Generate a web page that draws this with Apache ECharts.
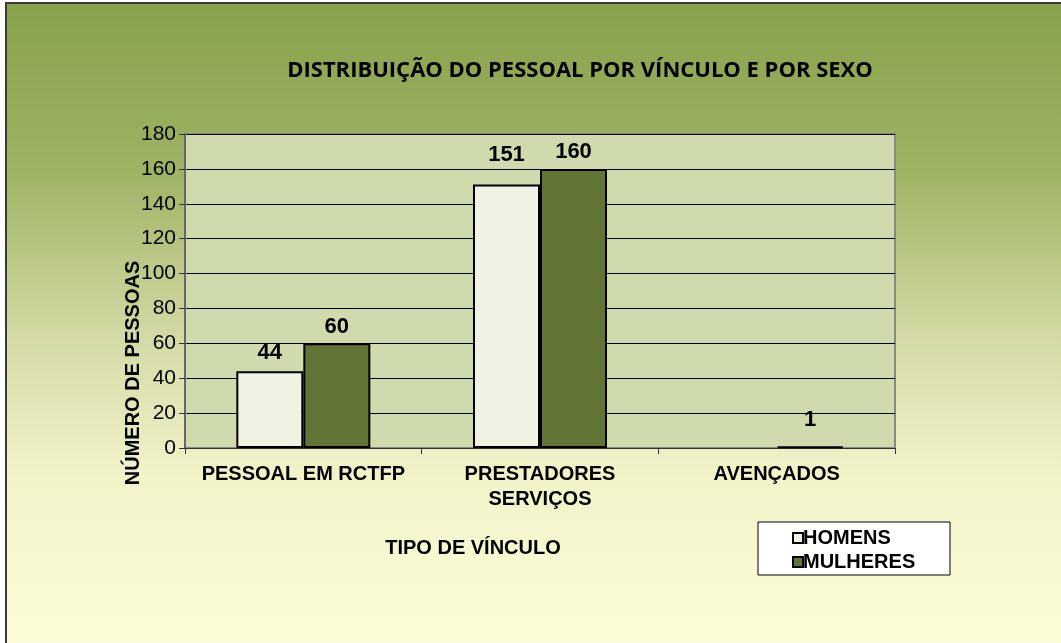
<!DOCTYPE html>
<html>
<head>
<meta charset="utf-8">
<script src="https://cdn.jsdelivr.net/npm/echarts@6/dist/echarts.min.js"></script>
<style>
  html, body { margin: 0; padding: 0; background: #fff; }
  #chart { width: 1061px; height: 643px; }
</style>
</head>
<body>
<div id="chart"></div>
<script>
// dados
var categorias = ['PESSOAL EM RCTFP', 'PRESTADORES\nSERVIÇOS', 'AVENÇADOS'];
var homens = [44, 151, 0];
var mulheres = [60, 160, 1];
var nomesSeries = ['HOMENS', 'MULHERES'];

// afastamento dos rótulos em relação ao topo da barra (como no original)
var distHomens = [7, 19, 0];
var distMulheres = [5, 6, 15];

var chart = echarts.init(document.getElementById('chart'));

var rotulo = {
  show: true,
  position: 'top',
  distance: 8,
  color: '#000',
  fontFamily: 'Liberation Sans',
  fontWeight: 'bold',
  fontSize: 22,
  formatter: function (p) { return p.value === 0 ? '' : p.value; }
};

// barras com valor 0 não desenham contorno
function dados(valores, dist) {
  return valores.map(function (v, i) {
    var item = { value: v, label: { distance: dist[i] } };
    if (v === 0) item.itemStyle = { borderWidth: 0 };
    return item;
  });
}

var option = {
  backgroundColor: '#fff',
  animation: false,
  title: {
    text: 'DISTRIBUIÇÃO DO PESSOAL POR VÍNCULO E POR SEXO',
    left: 575,
    top: 55,
    textAlign: 'center',
    textStyle: {
      fontFamily: 'Open Sans',
      fontWeight: 'bold',
      fontSize: 22,
      color: '#000'
    }
  },
  graphic: [
    { // fundo com degradê
      type: 'rect',
      z: -100,
      shape: { x: 6, y: 3, width: 1070, height: 660 },
      style: {
        fill: new echarts.graphic.LinearGradient(0, 0, 0, 1, [
          { offset: 0, color: '#88a24c' },
          { offset: 0.25, color: '#9db262' },
          { offset: 0.5, color: '#d2d9a4' },
          { offset: 0.72, color: '#f3f3ca' },
          { offset: 1, color: '#fdfdd9' }
        ]),
        stroke: '#3a3a3a',
        lineWidth: 2
      }
    },
    { // caixa da legenda
      type: 'rect',
      z: 5,
      shape: { x: 758, y: 522, width: 192, height: 53 },
      style: { fill: '#fff', stroke: '#000', lineWidth: 1 }
    },
    {
      type: 'text',
      z: 5,
      x: 473,
      y: 548,
      style: {
        text: 'TIPO DE VÍNCULO',
        align: 'center',
        verticalAlign: 'middle',
        font: 'bold 20px "Liberation Sans"',
        fill: '#000'
      }
    },
    {
      type: 'text',
      z: 5,
      x: 133,
      y: 373,
      rotation: Math.PI / 2,
      style: {
        text: 'NÚMERO DE PESSOAS',
        align: 'center',
        verticalAlign: 'middle',
        font: 'bold 20px "Liberation Sans"',
        fill: '#000'
      }
    }
  ],
  legend: {
    orient: 'vertical',
    left: 787,
    top: 523,
    z: 6,
    itemWidth: 10,
    itemHeight: 10,
    itemGap: 4,
    icon: 'rect',
    data: nomesSeries,
    textStyle: {
      fontFamily: 'Liberation Sans',
      fontWeight: 'bold',
      fontSize: 20,
      color: '#000',
      padding: [0, 0, 0, -5]
    }
  },
  grid: {
    left: 185,
    right: 166,
    top: 134,
    bottom: 195,
    show: true,
    backgroundColor: '#cfdbad',
    borderColor: '#888',
    borderWidth: 2
  },
  xAxis: {
    type: 'category',
    data: categorias,
    axisLine: { lineStyle: { color: '#333', width: 1 } },
    axisTick: { show: true, length: 6, lineStyle: { color: '#333' } },
    axisLabel: {
      interval: 0,
      hideOverlap: false,
      margin: 14,
      color: '#000',
      fontFamily: 'Liberation Sans',
      fontWeight: 'bold',
      fontSize: 20,
      lineHeight: 25
    }
  },
  yAxis: {
    type: 'value',
    min: 0,
    max: 180,
    interval: 20,
    axisLine: { show: true, lineStyle: { color: '#666', width: 2 } },
    axisTick: { show: true, length: 6, lineStyle: { color: '#333' } },
    axisLabel: {
      margin: 9,
      color: '#000',
      fontFamily: 'Liberation Sans',
      fontSize: 21
    },
    splitLine: { lineStyle: { color: '#000', width: 1 } }
  },
  series: [
    {
      name: nomesSeries[0],
      type: 'bar',
      data: dados(homens, distHomens),
      barWidth: 67,
      barGap: '0%',
      itemStyle: { color: '#f0f3e4', borderColor: '#000', borderWidth: 2 },
      label: rotulo
    },
    {
      name: nomesSeries[1],
      type: 'bar',
      data: dados(mulheres, distMulheres),
      barWidth: 67,
      barGap: '0%',
      itemStyle: { color: '#627436', borderColor: '#000', borderWidth: 2 },
      label: rotulo
    }
  ]
};

chart.setOption(option);
</script>
</body>
</html>
